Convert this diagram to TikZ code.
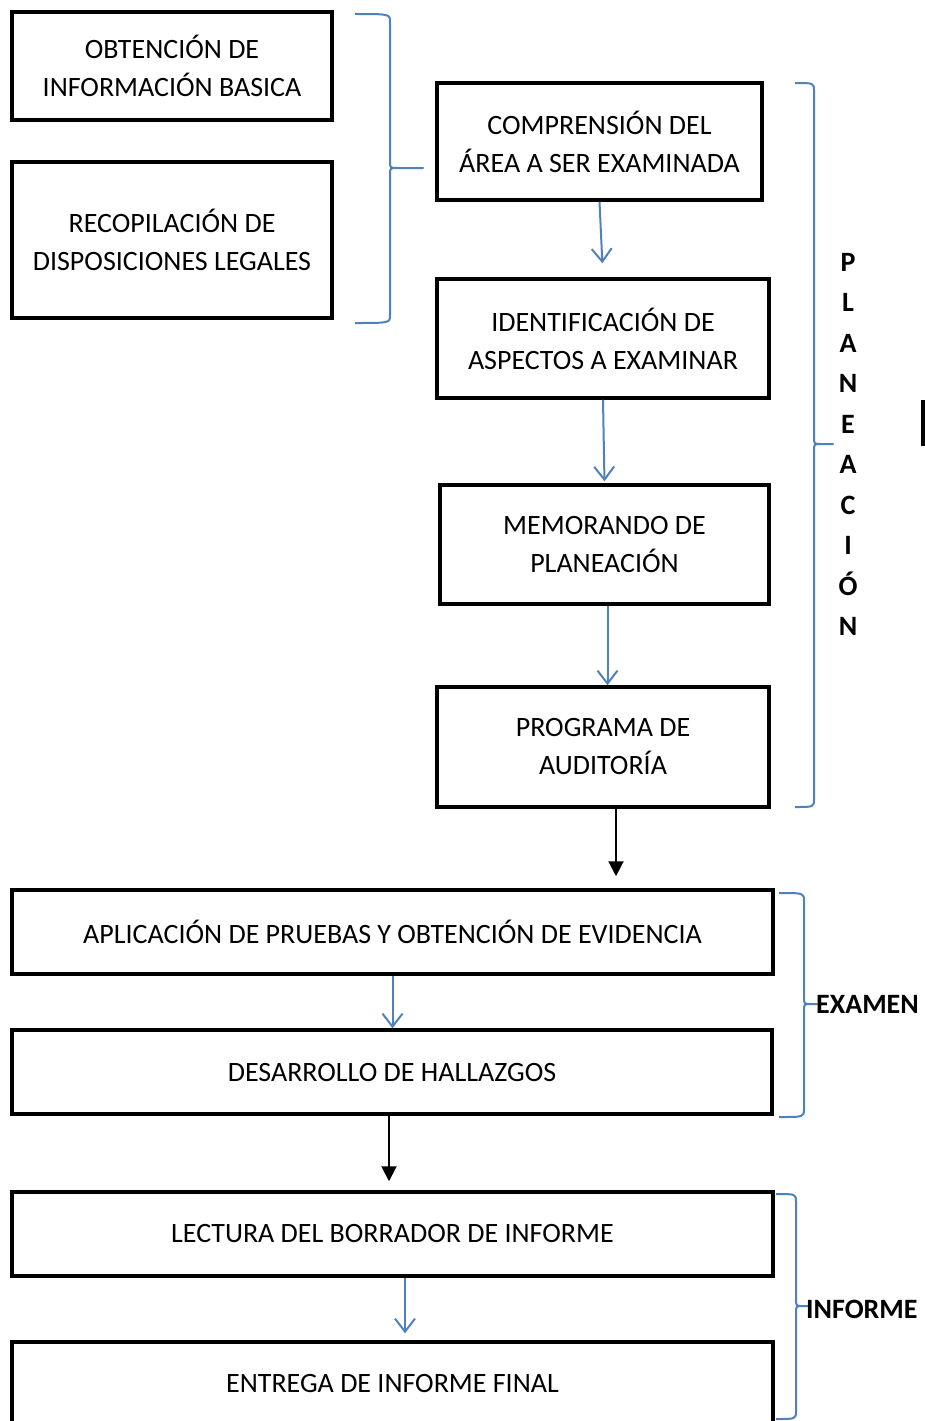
\documentclass[tikz,border=0pt]{standalone}
\usepackage{fontspec}
\setmainfont{Carlito}
\usetikzlibrary{arrows.meta}
\definecolor{officeblue}{RGB}{79,129,189}
\tikzset{
  stepbox/.style={draw=black, line width=3.5pt, inner sep=0pt, align=center,
    font=\fontsize{28}{38}\selectfont},
  bluearrow/.style={draw=officeblue, line width=2pt,
    -{Straight Barb[length=13pt,width=20pt,line width=2pt]}},
  blackarrow/.style={draw=black, line width=2pt,
    -{Triangle[length=15pt,width=15pt]}},
  bracestyle/.style={draw=officeblue, line width=2pt, line join=round},
  phase/.style={font=\bfseries\fontsize{28}{38}\selectfont, inner sep=0pt},
}
% right curly brace: #1 end x, #2 stem x, #3 tip x, #4 top y, #5 tip y, #6 bottom y
\newcommand{\drawsidebrace}[6]{%
  \draw[bracestyle] (#1,#4) .. controls (#2,#4) .. (#2,#4+8)
    -- (#2,#5-7) .. controls (#2,#5) .. (#2+7,#5) -- (#3,#5)
    -- (#2+7,#5) .. controls (#2,#5) .. (#2,#5+7)
    -- (#2,#6-8) .. controls (#2,#6) .. (#1,#6);}
\begin{document}
\begin{tikzpicture}[x=1pt,y=-1pt]
\useasboundingbox (0,0) rectangle (925,1421);
\clip (0,0) rectangle (925,1421);

% preliminary boxes
\node[stepbox, minimum width=320pt, minimum height=108pt] (b1) at (172,66)
  {OBTENCIÓN DE\\INFORMACIÓN BASICA};
\node[stepbox, minimum width=320pt, minimum height=156pt] (b2) at (172,240)
  {RECOPILACIÓN DE\\DISPOSICIONES LEGALES};
\drawsidebrace{355}{390}{423}{14}{168}{323}

% planning column
\node[stepbox, minimum width=325pt, minimum height=117pt] (b3) at (599.5,141.5)
  {COMPRENSIÓN DEL\\ÁREA A SER EXAMINADA};
\node[stepbox, minimum width=332pt, minimum height=119pt] (b4) at (603,338.5)
  {IDENTIFICACIÓN DE\\ASPECTOS A EXAMINAR};
\node[stepbox, minimum width=329pt, minimum height=119pt] (b5) at (604.5,544.5)
  {MEMORANDO DE\\PLANEACIÓN};
\node[stepbox, minimum width=332pt, minimum height=120pt] (b6) at (603,747)
  {PROGRAMA DE\\AUDITORÍA};

\draw[bluearrow, shorten >=14pt] (b3.south) -- (b4.north);
\draw[bluearrow, shorten >=2pt] (b4.south) -- (b5.north);
\draw[bluearrow] ([xshift=3pt]b5.south) -- ([xshift=3pt]b5.south |- b6.north);

\drawsidebrace{795}{814}{833}{83}{444}{807}
\node[phase, align=center, font=\bfseries\fontsize{28}{40.5}\selectfont] (plan) at (848,444.5)
  {P\\L\\A\\N\\E\\A\\C\\I\\Ó\\N};
\fill[black] (921,400) rectangle (925,446);

% examination
\node[stepbox, minimum width=761pt, minimum height=84pt] (b7) at (392.5,932)
  {APLICACIÓN DE PRUEBAS Y OBTENCIÓN DE EVIDENCIA};
\node[stepbox, minimum width=760pt, minimum height=84pt] (b8) at (392,1072)
  {DESARROLLO DE HALLAZGOS};
\draw[blackarrow, shorten >=12pt] ([xshift=13pt]b6.south) -- ([xshift=13pt]b6.south |- b7.north);
\draw[bluearrow] (b7.south) -- (b7.south |- b8.north);
\drawsidebrace{779}{804}{817}{893}{1004}{1117}
\node[phase, anchor=west] (examen) at (816,1004) {EXAMEN};

% report
\node[stepbox, minimum width=761pt, minimum height=84pt] (b9) at (392.5,1234)
  {LECTURA DEL BORRADOR DE INFORME};
\node[stepbox, minimum width=761pt, minimum height=82pt] (b10) at (392.5,1383)
  {ENTREGA DE INFORME FINAL};
\draw[blackarrow, shorten >=9pt] ([xshift=-3pt]b8.south) -- ([xshift=-3pt]b8.south |- b9.north);
\draw[bluearrow, shorten >=7pt] ([xshift=12.5pt]b9.south) -- ([xshift=12.5pt]b9.south |- b10.north);
\drawsidebrace{776}{796}{808}{1194}{1306}{1419}
\node[phase, anchor=west] (informe) at (806,1309) {INFORME};
\end{tikzpicture}
\end{document}
